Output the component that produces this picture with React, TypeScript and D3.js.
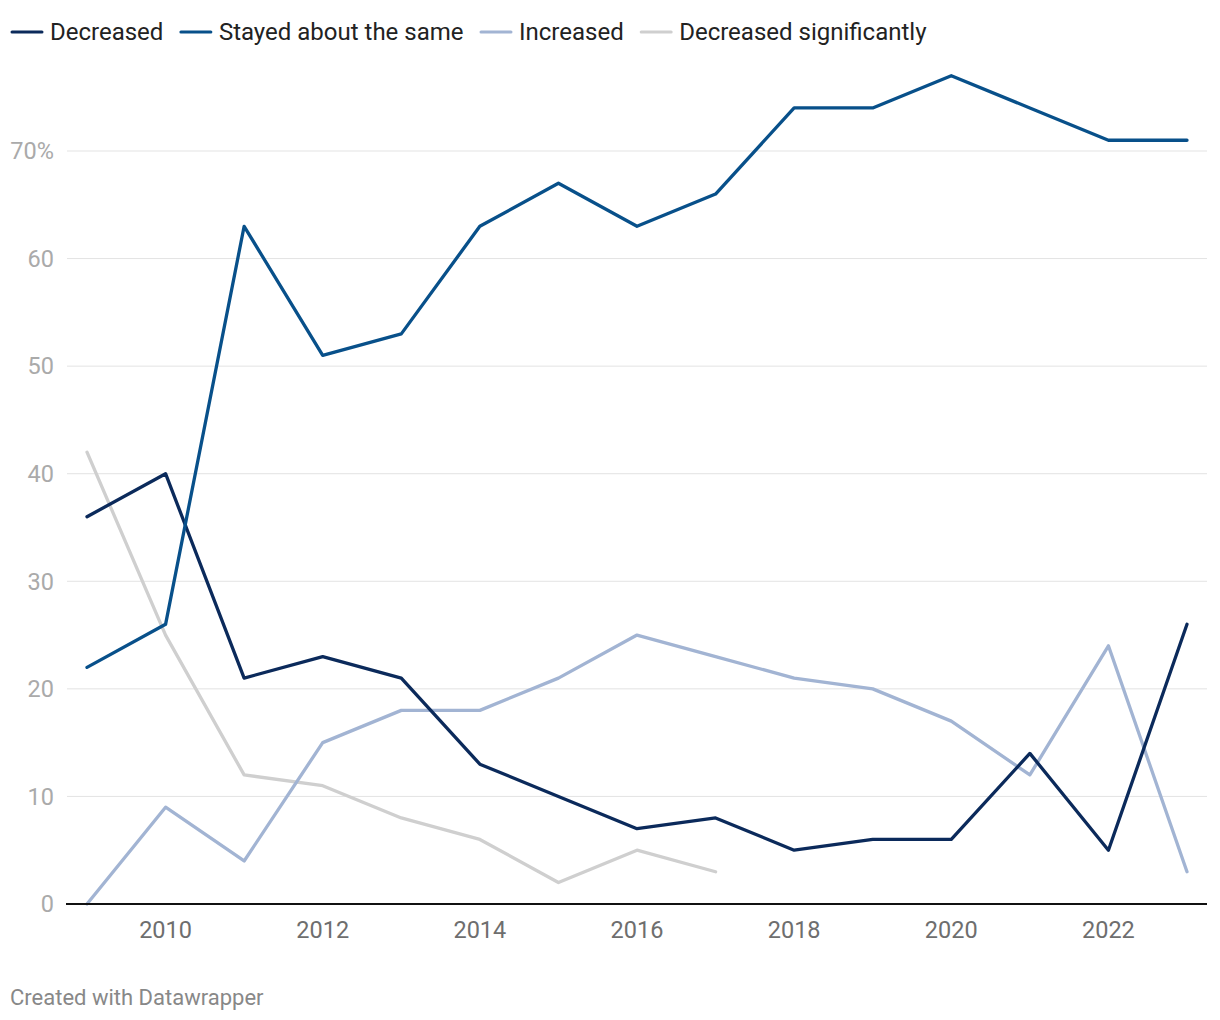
import React from "react";
import * as d3 from "d3";

const years = [2009, 2010, 2011, 2012, 2013, 2014, 2015, 2016, 2017, 2018, 2019, 2020, 2021, 2022, 2023];
const decreased = [36, 40, 21, 23, 21, 13, 10, 7, 8, 5, 6, 6, 14, 5, 26];
const stayed = [22, 26, 63, 51, 53, 63, 67, 63, 66, 74, 74, 77, 74, 71, 71];
const increased = [0, 9, 4, 15, 18, 18, 21, 25, 23, 21, 20, 17, 12, 24, 3];
const decreasedSig = [42, 25, 12, 11, 8, 6, 2, 5, 3];
const yTicks = [0, 10, 20, 30, 40, 50, 60, 70];
const xTicks = [2010, 2012, 2014, 2016, 2018, 2020, 2022];

const seriesNames = ["Decreased", "Stayed about the same", "Increased", "Decreased significantly"];
const seriesValues = [decreased, stayed, increased, decreasedSig];
const colors = ["#0b2a5b", "#08508a", "#a2b4d3", "#cfcfcf"];

const W = 1220;
const H = 1020;
const FONT = "Roboto, sans-serif";
const LEGEND_SIZE = 24;

function textWidth(t: string, size: number) {
  const c = document.createElement("canvas").getContext("2d");
  if (!c) return t.length * size * 0.5;
  c.font = `${size}px Roboto`;
  return c.measureText(t).width;
}

export default function App() {
  const x = d3.scaleLinear().domain([2009, 2023]).range([87, 1187]);
  const y = d3.scaleLinear().domain([0, 70]).range([904, 151]);
  const line = d3
    .line<[number, number]>()
    .x((d) => x(d[0]))
    .y((d) => y(d[1]));

  let lx = 12;
  const legendItems = seriesNames.map((name, i) => {
    const item = { name, color: colors[i], x: lx };
    lx += 30 + 8 + textWidth(name, LEGEND_SIZE) + 17.5;
    return item;
  });

  const order = [3, 2, 0, 1];

  return (
    <svg width={W} height={H} style={{ position: "absolute", left: 0, top: 0, background: "#fff" }} fontFamily={FONT}>
      <rect width={W} height={H} fill="#fff" />
      {legendItems.map((it) => (
        <g key={it.name}>
          <line x1={it.x} x2={it.x + 30} y1={32} y2={32} stroke={it.color} strokeWidth={3} strokeLinecap="round" />
          <text x={it.x + 38} y={32} dy="0.35em" fontSize={LEGEND_SIZE} fill="#222">
            {it.name}
          </text>
        </g>
      ))}
      {yTicks.map((t) => (
        <g key={t}>
          {t !== 0 && <line x1={67} x2={1207} y1={y(t)} y2={y(t)} stroke="#e3e3e3" strokeWidth={1} />}
          <text x={54} y={y(t)} dy="0.35em" textAnchor="end" fontSize={23.5} fill="#aaaaaa">
            {t === 70 ? "70%" : t}
          </text>
        </g>
      ))}
      {xTicks.map((t) => (
        <text key={t} x={x(t)} y={930} dy="0.35em" textAnchor="middle" fontSize={23.5} fill="#6e6e6e">
          {t}
        </text>
      ))}
      {order.map((i) => (
        <path
          key={i}
          d={line(seriesValues[i].map((v, j) => [years[j], v] as [number, number])) || ""}
          fill="none"
          stroke={colors[i]}
          strokeWidth={3.3}
          strokeLinejoin="round"
          strokeLinecap="round"
        />
      ))}
      <line x1={66} x2={1207} y1={904} y2={904} stroke="#111" strokeWidth={2} />
      <text x={10} y={997} dy="0.35em" fontSize={22} fill="#888">
        Created with Datawrapper
      </text>
    </svg>
  );
}
